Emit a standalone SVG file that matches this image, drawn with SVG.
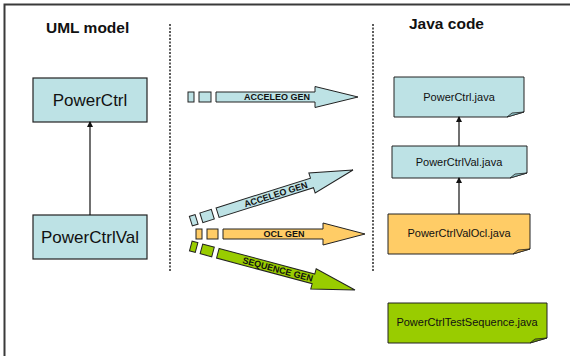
<svg xmlns="http://www.w3.org/2000/svg" width="570" height="356" viewBox="0 0 570 356">
<defs>
<style>
.frame{fill:none;stroke:#3a3a3a;stroke-width:2}
.sep{stroke:#333;stroke-width:1.6;stroke-dasharray:2 1.5;fill:none}
.title{font-family:"Liberation Sans",Arial,sans-serif;font-size:15.5px;font-weight:bold;fill:#111}
.uml{stroke:#222;stroke-width:1.2;fill:#BDE2E5}
.umltxt{font-family:"Liberation Sans",Arial,sans-serif;font-size:17px;fill:#111;text-anchor:middle}
.note{stroke:#222;stroke-width:1}
.fold{stroke:#222;stroke-width:0.8}
.jtxt{font-family:"Liberation Sans",Arial,sans-serif;font-size:11px;fill:#111;text-anchor:middle}
.blue{fill:#BDE2E5}
.orange{fill:#FFCC66}
.green{fill:#99CC00}
.blueD{fill:#8FC4C9}
.orangeD{fill:#E0A840}
.greenD{fill:#6E9900}
.arr{stroke:#222;stroke-width:1}
.atxt{font-family:"Liberation Sans",Arial,sans-serif;font-size:9px;font-weight:bold;fill:#111;text-anchor:middle}
.link{stroke:#111;stroke-width:1.2;fill:none}
</style>
<marker id="tri" markerWidth="6" markerHeight="6" refX="5" refY="3" orient="auto" markerUnits="userSpaceOnUse">
<path d="M0,0 L6,3 L0,6 Z" fill="#111"/>
</marker>
</defs>
<rect width="570" height="356" fill="#ffffff"/>
<path class="frame" d="M4.5,356 V4.5 H570"/>
<line class="sep" x1="170" y1="24" x2="170" y2="272"/>
<line class="sep" x1="373" y1="24" x2="373" y2="272"/>
<text class="title" x="46" y="33">UML model</text>
<text class="title" x="409" y="29">Java code</text>

<g id="PowerCtrl">
<rect class="uml" x="33" y="78" width="114" height="44"/>
<text class="umltxt" x="90" y="106">PowerCtrl</text>
</g>
<g id="PowerCtrlVal">
<rect class="uml" x="33" y="215" width="114" height="44"/>
<text class="umltxt" x="90" y="243">PowerCtrlVal</text>
</g>

<g id="PowerCtrl.java">
<path class="note blue" d="M394,77 H524 V112 L507,117 H394 Z"/>
<path class="fold blueD" d="M507,117 L512,113 L524,112 Z"/>
<text class="jtxt" x="459" y="101">PowerCtrl.java</text>
</g>
<g id="PowerCtrlVal.java">
<path class="note blue" d="M392,146 H527 V173 L510,178 H392 Z"/>
<path class="fold blueD" d="M510,178 L515,174 L527,173 Z"/>
<text class="jtxt" x="459" y="166">PowerCtrlVal.java</text>
</g>
<g id="PowerCtrlValOcl.java">
<path class="note orange" d="M388,214 H530 V249 L513,254 H388 Z"/>
<path class="fold orangeD" d="M513,254 L518,250 L530,249 Z"/>
<text class="jtxt" x="459" y="237">PowerCtrlValOcl.java</text>
</g>
<g id="PowerCtrlTestSequence.java">
<path class="note green" d="M388,303 H547 V338 L530,343 H388 Z"/>
<path class="fold greenD" d="M530,343 L535,339 L547,338 Z"/>
<text class="jtxt" x="467" y="326">PowerCtrlTestSequence.java</text>
</g>

<g id="connectors">
<line class="link" x1="90" y1="215" x2="90" y2="122" marker-end="url(#tri)"/>
<line class="link" x1="459" y1="146" x2="459" y2="117" marker-end="url(#tri)"/>
<line class="link" x1="459" y1="214" x2="459" y2="178" marker-end="url(#tri)"/>

<g id="gen-acceleo-1" transform="translate(358,97)">
<rect class="arr blue" x="-170" y="-5" width="6" height="10"/>
<rect class="arr blue" x="-159" y="-5" width="12" height="10"/>
<path class="arr blue" d="M-142,-5 H-43 V-10.5 L0,0 L-43,10.5 V5 H-142 Z"/>
<text class="atxt" x="-81" y="3.2">ACCELEO GEN</text>
</g>
<g id="gen-acceleo-2" transform="translate(353,170) rotate(-17.5)">
<rect class="arr blue" x="-170" y="-5" width="6" height="10"/>
<rect class="arr blue" x="-159" y="-5" width="12" height="10"/>
<path class="arr blue" d="M-142,-5 H-43 V-10.5 L0,0 L-43,10.5 V5 H-142 Z"/>
<text class="atxt" x="-81" y="3.2">ACCELEO GEN</text>
</g>
<g id="gen-ocl" transform="translate(365,234)">
<rect class="arr orange" x="-169" y="-5" width="6" height="10"/>
<rect class="arr orange" x="-158" y="-5" width="11" height="10"/>
<path class="arr orange" d="M-142,-5 H-42 V-11 L0,0 L-42,11 V5 H-142 Z"/>
<text class="atxt" x="-81" y="3.2">OCL GEN</text>
</g>
<g id="gen-sequence" transform="translate(355,290) rotate(15)">
<rect class="arr green" x="-170" y="-5" width="6" height="10"/>
<rect class="arr green" x="-159" y="-5" width="12" height="10"/>
<path class="arr green" d="M-142,-5 H-43 V-10.5 L0,0 L-43,10.5 V5 H-142 Z"/>
<text class="atxt" x="-80" y="3.2">SEQUENCE GEN</text>
</g>
</g>
</svg>
